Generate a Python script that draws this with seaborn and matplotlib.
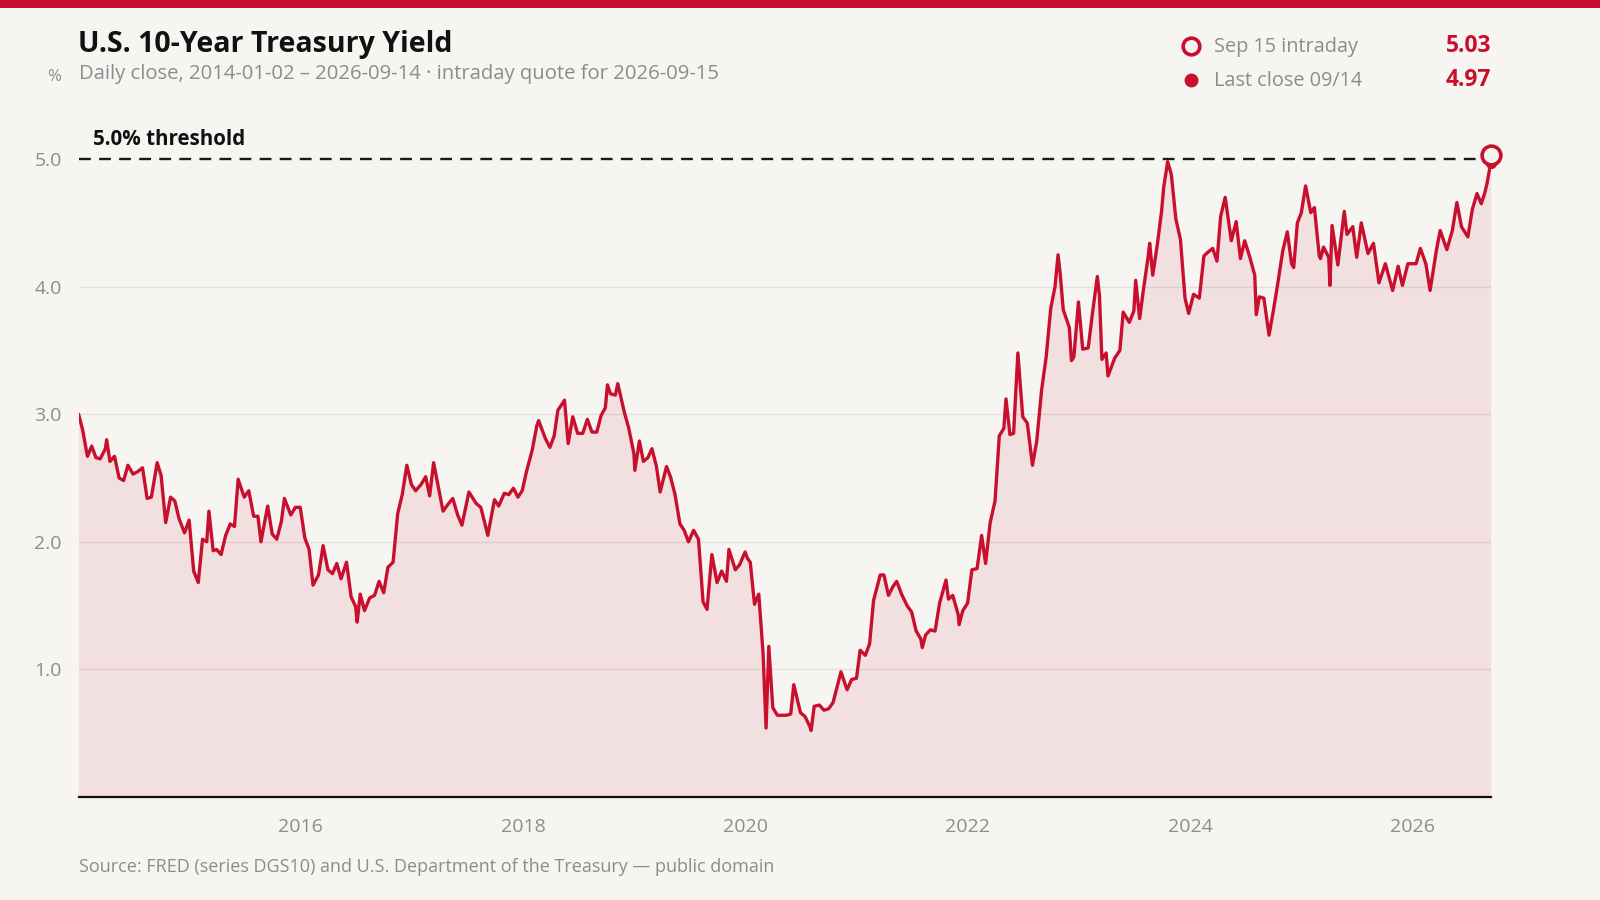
import pandas as pd
import matplotlib
matplotlib.use("Agg")
import matplotlib.pyplot as plt
import matplotlib.dates as mdates
from matplotlib.lines import Line2D
from matplotlib.patches import Rectangle
import seaborn as sns

# 10-year yield (about two closes per month)
dates = [
    "2014-01-02", "2014-01-15", "2014-01-31", "2014-02-14", "2014-02-28", "2014-03-14", "2014-03-31", "2014-04-04",
    "2014-04-15", "2014-04-30", "2014-05-15", "2014-05-30", "2014-06-13", "2014-06-30", "2014-07-15", "2014-07-31",
    "2014-08-15", "2014-08-29", "2014-09-17", "2014-09-30", "2014-10-15", "2014-10-31", "2014-11-14", "2014-11-28",
    "2014-12-16", "2014-12-31",
    "2015-01-15", "2015-01-30", "2015-02-13", "2015-02-27", "2015-03-06", "2015-03-20", "2015-03-31", "2015-04-15",
    "2015-04-30", "2015-05-15", "2015-05-29", "2015-06-10", "2015-06-30", "2015-07-15", "2015-07-31", "2015-08-14",
    "2015-08-24", "2015-09-15", "2015-09-30", "2015-10-15", "2015-10-30", "2015-11-09", "2015-11-30", "2015-12-15",
    "2015-12-31",
    "2016-01-15", "2016-01-29", "2016-02-11", "2016-02-29", "2016-03-15", "2016-03-31", "2016-04-15", "2016-04-29",
    "2016-05-13", "2016-05-31", "2016-06-15", "2016-06-30", "2016-07-05", "2016-07-15", "2016-07-29", "2016-08-15",
    "2016-08-31", "2016-09-15", "2016-09-30", "2016-10-14", "2016-10-31", "2016-11-09", "2016-11-15", "2016-11-30",
    "2016-12-15", "2016-12-30",
    "2017-01-13", "2017-01-31", "2017-02-15", "2017-02-28", "2017-03-13", "2017-03-31", "2017-04-13", "2017-04-28",
    "2017-05-15", "2017-05-31", "2017-06-14", "2017-06-30", "2017-07-07", "2017-07-31", "2017-08-15", "2017-08-31",
    "2017-09-07", "2017-09-29", "2017-10-13", "2017-10-31", "2017-11-15", "2017-11-30", "2017-12-15", "2017-12-29",
    "2018-01-12", "2018-01-31", "2018-02-15", "2018-02-21", "2018-03-15", "2018-03-30", "2018-04-13", "2018-04-25",
    "2018-05-17", "2018-05-29", "2018-06-13", "2018-06-29", "2018-07-16", "2018-07-31", "2018-08-15", "2018-08-31",
    "2018-09-14", "2018-09-28", "2018-10-05", "2018-10-15", "2018-10-31", "2018-11-08", "2018-11-30", "2018-12-14",
    "2018-12-31",
    "2019-01-03", "2019-01-18", "2019-01-31", "2019-02-15", "2019-02-28", "2019-03-15", "2019-03-27", "2019-04-17",
    "2019-04-30", "2019-05-15", "2019-05-31", "2019-06-14", "2019-06-28", "2019-07-15", "2019-07-31", "2019-08-15",
    "2019-08-28", "2019-09-13", "2019-09-30", "2019-10-15", "2019-10-31", "2019-11-08", "2019-11-29", "2019-12-13",
    "2019-12-31",
    "2020-01-08", "2020-01-17", "2020-01-31", "2020-02-14", "2020-02-28", "2020-03-09", "2020-03-18", "2020-03-31",
    "2020-04-15", "2020-04-30", "2020-05-15", "2020-05-29", "2020-06-08", "2020-06-30", "2020-07-15", "2020-07-31",
    "2020-08-04", "2020-08-14", "2020-08-31", "2020-09-15", "2020-09-30", "2020-10-15", "2020-10-30", "2020-11-10",
    "2020-11-30", "2020-12-15", "2020-12-31",
    "2021-01-12", "2021-01-29", "2021-02-12", "2021-02-25", "2021-03-19", "2021-03-31", "2021-04-15", "2021-04-30",
    "2021-05-12", "2021-05-28", "2021-06-15", "2021-06-30", "2021-07-15", "2021-07-30", "2021-08-04", "2021-08-15",
    "2021-08-31", "2021-09-15", "2021-09-30", "2021-10-21", "2021-10-29", "2021-11-12", "2021-11-30", "2021-12-03",
    "2021-12-15", "2021-12-31",
    "2022-01-14", "2022-01-31", "2022-02-15", "2022-02-28", "2022-03-15", "2022-03-31", "2022-04-14", "2022-04-29",
    "2022-05-06", "2022-05-19", "2022-05-31", "2022-06-14", "2022-06-30", "2022-07-15", "2022-08-01", "2022-08-15",
    "2022-08-31", "2022-09-15", "2022-09-30", "2022-10-14", "2022-10-24", "2022-10-31", "2022-11-10", "2022-11-30",
    "2022-12-07", "2022-12-15", "2022-12-30",
    "2023-01-13", "2023-01-31", "2023-02-15", "2023-03-02", "2023-03-09", "2023-03-17", "2023-03-31", "2023-04-06",
    "2023-04-28", "2023-05-15", "2023-05-26", "2023-06-15", "2023-06-30", "2023-07-06", "2023-07-19", "2023-07-31",
    "2023-08-15", "2023-08-21", "2023-08-31", "2023-09-15", "2023-09-29", "2023-10-06", "2023-10-19", "2023-10-31",
    "2023-11-15", "2023-11-30", "2023-12-15", "2023-12-27",
    "2024-01-12", "2024-01-31", "2024-02-15", "2024-02-28", "2024-03-15", "2024-03-29", "2024-04-10", "2024-04-25",
    "2024-05-15", "2024-05-31", "2024-06-14", "2024-06-28", "2024-07-15", "2024-07-31", "2024-08-05", "2024-08-15",
    "2024-08-30", "2024-09-16", "2024-09-30", "2024-10-15", "2024-10-31", "2024-11-15", "2024-11-29", "2024-12-06",
    "2024-12-18", "2024-12-31",
    "2025-01-14", "2025-01-31", "2025-02-12", "2025-02-28", "2025-03-04", "2025-03-14", "2025-03-31", "2025-04-04",
    "2025-04-11", "2025-04-30", "2025-05-21", "2025-05-30", "2025-06-18", "2025-07-01", "2025-07-16", "2025-08-07",
    "2025-08-25", "2025-09-12", "2025-10-03", "2025-10-27", "2025-11-14", "2025-11-28", "2025-12-16",
    "2026-01-12", "2026-01-26", "2026-02-13", "2026-02-27", "2026-03-20", "2026-04-01", "2026-04-23", "2026-05-11",
    "2026-05-26", "2026-06-10", "2026-07-01", "2026-07-16", "2026-07-31", "2026-08-14", "2026-08-25", "2026-09-02",
    "2026-09-14",
]
yields = [
    3.00, 2.88, 2.67, 2.75, 2.66, 2.65, 2.73, 2.80, 2.63, 2.67, 2.50, 2.48, 2.60, 2.53, 2.55, 2.58,
    2.34, 2.35, 2.62, 2.52, 2.15, 2.35, 2.32, 2.18, 2.07, 2.17,
    1.77, 1.68, 2.02, 2.00, 2.24, 1.93, 1.94, 1.90, 2.05, 2.14, 2.12, 2.49, 2.35, 2.40, 2.20, 2.20,
    2.00, 2.28, 2.06, 2.02, 2.16, 2.34, 2.21, 2.27, 2.27,
    2.03, 1.94, 1.66, 1.74, 1.97, 1.78, 1.75, 1.83, 1.71, 1.84, 1.57, 1.49, 1.37, 1.59, 1.46, 1.56,
    1.58, 1.69, 1.60, 1.80, 1.84, 2.07, 2.22, 2.37, 2.60, 2.45,
    2.40, 2.45, 2.51, 2.36, 2.62, 2.40, 2.24, 2.29, 2.34, 2.21, 2.13, 2.31, 2.39, 2.30, 2.27, 2.12,
    2.05, 2.33, 2.28, 2.38, 2.37, 2.42, 2.35, 2.40,
    2.55, 2.72, 2.91, 2.95, 2.81, 2.74, 2.83, 3.03, 3.11, 2.77, 2.98, 2.85, 2.85, 2.96, 2.86, 2.86,
    2.99, 3.05, 3.23, 3.16, 3.15, 3.24, 3.01, 2.89, 2.69,
    2.56, 2.79, 2.63, 2.66, 2.73, 2.59, 2.39, 2.59, 2.51, 2.37, 2.14, 2.09, 2.00, 2.09, 2.02, 1.53,
    1.47, 1.90, 1.68, 1.77, 1.69, 1.94, 1.78, 1.82, 1.92,
    1.87, 1.84, 1.51, 1.59, 1.13, 0.54, 1.18, 0.70, 0.64, 0.64, 0.64, 0.65, 0.88, 0.66, 0.63, 0.55,
    0.52, 0.71, 0.72, 0.68, 0.69, 0.74, 0.88, 0.98, 0.84, 0.92, 0.93,
    1.15, 1.11, 1.20, 1.54, 1.74, 1.74, 1.58, 1.65, 1.69, 1.59, 1.50, 1.45, 1.30, 1.24, 1.17, 1.27,
    1.31, 1.30, 1.52, 1.70, 1.55, 1.58, 1.43, 1.35, 1.46, 1.52,
    1.78, 1.79, 2.05, 1.83, 2.15, 2.32, 2.83, 2.89, 3.12, 2.84, 2.85, 3.48, 2.98, 2.93, 2.60, 2.79,
    3.19, 3.45, 3.83, 4.00, 4.25, 4.10, 3.82, 3.68, 3.42, 3.45, 3.88,
    3.51, 3.52, 3.81, 4.08, 3.93, 3.43, 3.48, 3.30, 3.44, 3.50, 3.80, 3.72, 3.81, 4.05, 3.75, 3.97,
    4.22, 4.34, 4.09, 4.33, 4.59, 4.78, 4.98, 4.88, 4.53, 4.37, 3.91, 3.79,
    3.94, 3.91, 4.24, 4.27, 4.30, 4.20, 4.55, 4.70, 4.36, 4.51, 4.22, 4.36, 4.23, 4.09, 3.78, 3.92,
    3.91, 3.62, 3.81, 4.03, 4.28, 4.43, 4.18, 4.15, 4.50, 4.58,
    4.79, 4.58, 4.62, 4.24, 4.22, 4.31, 4.23, 4.01, 4.48, 4.17, 4.59, 4.41, 4.47, 4.23, 4.50, 4.26,
    4.34, 4.03, 4.18, 3.97, 4.16, 4.01, 4.18,
    4.18, 4.30, 4.18, 3.97, 4.29, 4.44, 4.29, 4.44, 4.66, 4.47, 4.39, 4.61, 4.73, 4.65, 4.73, 4.81,
    4.97,
]

intraday_date = "2026-09-15"
intraday_value = 5.03
last_close_date = "2026-09-14"
last_close_value = 4.97
threshold = 5.0
y_ticks = [1.0, 2.0, 3.0, 4.0, 5.0]
x_tick_years = [2016, 2018, 2020, 2022, 2024, 2026]

RED = "#c8102e"
BG = "#f7f5f2"
GREY = "#8c8c8c"
GRID = "#e3dfdb"

sns.set_theme(style="white")
plt.rcParams['font.family'] = ['Open Sans', 'DejaVu Sans']

df = pd.DataFrame({"date": pd.to_datetime(dates), "yield": yields})

W, H = 1600, 900
fig = plt.figure(figsize=(W / 100, H / 100), dpi=100, facecolor=BG)
ax = fig.add_axes([78.6 / W, 1 - 796.9 / H, (1491 - 78.6) / W, (796.9 - 133.6) / H])
ax.set_facecolor(BG)

ax.fill_between(df["date"], df["yield"], 0, color=RED, alpha=0.09, linewidth=0, zorder=1)
sns.lineplot(data=df, x="date", y="yield", ax=ax, color=RED, linewidth=2.4, zorder=3)
ax.plot(pd.to_datetime([last_close_date, intraday_date]), [last_close_value, intraday_value],
        color=RED, linewidth=2.4, zorder=3, clip_on=False)

ax.axhline(threshold, color="#1a1a1a", linewidth=1.7, dashes=(5, 3.5), zorder=2)
for v in y_ticks[:-1]:
    ax.axhline(v, color=GRID, linewidth=1, zorder=0)

ax.plot(pd.to_datetime([last_close_date]), [last_close_value], "o", color=RED, markersize=7,
        zorder=4, clip_on=False)
ax.plot(pd.to_datetime([intraday_date]), [intraday_value], "o", markerfacecolor=BG,
        markeredgecolor=RED, markeredgewidth=2.6, markersize=13.5, zorder=5, clip_on=False)

ax.set_xlim(pd.Timestamp("2014-01-02"), pd.Timestamp(intraday_date))
ax.set_ylim(0, 5.2)
ax.set_xticks([pd.Timestamp(f"{y}-01-01") for y in x_tick_years])
ax.xaxis.set_major_formatter(mdates.DateFormatter("%Y"))
ax.set_yticks(y_ticks)
ax.set_yticklabels([f"{v:.1f}" for v in y_ticks])
ax.tick_params(axis="x", length=5, width=1, color="#cfcac5", labelcolor=GREY, labelsize=14, pad=10)
ax.tick_params(axis="y", length=0, labelcolor=GREY, labelsize=14, pad=12)
ax.set_xlabel("")
ax.set_ylabel("")
for s in ["top", "right", "left"]:
    ax.spines[s].set_visible(False)
ax.spines["bottom"].set_color("#111111")
ax.spines["bottom"].set_linewidth(1.6)
ax.spines["bottom"].set_zorder(6)

def px(x, y):
    return x / W, 1 - y / H

fig.add_artist(Rectangle((0, 1 - 8 / H), 1, 8 / H, transform=fig.transFigure, color=RED, lw=0))

fig.text(*px(78, 52), "U.S. 10-Year Treasury Yield", fontsize=20.5, weight="bold", color="#111111", va="baseline")
fig.text(*px(78.6, 79), "Daily close, 2014-01-02 \u2013 2026-09-14 \u00b7 intraday quote for 2026-09-15",
         fontsize=14.6, color=GREY, va="baseline")
fig.text(*px(47, 81), "%", fontsize=12, color=GREY, va="baseline")
fig.text(*px(93, 145), "5.0% threshold", fontsize=14.8, weight="bold", color="#111111", va="baseline")
fig.text(*px(78.6, 872), "Source: FRED (series DGS10) and U.S. Department of the Treasury \u2014 public domain",
         fontsize=13, color=GREY, va="baseline")

# legend block, top right
fig.add_artist(Line2D([1191 / W], [1 - 46 / H], marker="o", markersize=12, markerfacecolor=BG,
                      markeredgecolor=RED, markeredgewidth=2.6, transform=fig.transFigure))
fig.add_artist(Line2D([1191 / W], [1 - 80 / H], marker="o", markersize=9, color=RED,
                      transform=fig.transFigure))
fig.text(*px(1214, 47), "Sep 15 intraday", fontsize=14.3, color=GREY, va="center")
fig.text(*px(1214, 81), "Last close 09/14", fontsize=14.3, color=GREY, va="center")
fig.text(*px(1491, 46), f"{intraday_value:.2f}", fontsize=16.5, weight="bold", color=RED, va="center", ha="right")
fig.text(*px(1491, 80), f"{last_close_value:.2f}", fontsize=16.5, weight="bold", color=RED, va="center", ha="right")

fig.savefig("out.png", dpi=100, facecolor=BG)
